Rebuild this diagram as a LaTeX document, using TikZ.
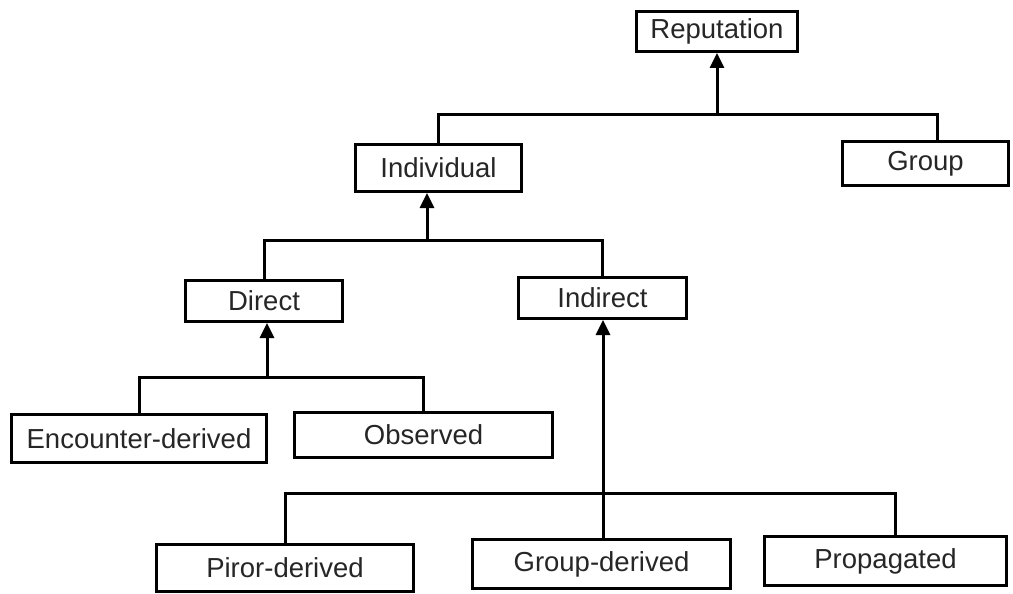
\documentclass[tikz,border=0pt]{standalone}
\usepackage{fontspec}
\setmainfont{Liberation Sans}
\usetikzlibrary{arrows.meta}
\begin{document}
\begin{tikzpicture}[x=1pt,y=-1pt,
  box/.style={draw=black,line width=3pt,fill=white,inner sep=0pt,
    font=\fontsize{27.5}{33}\selectfont,text=black!85},
  conn/.style={draw=black,line width=3pt},
  arr/.style={conn,-{Triangle[width=14pt,length=15pt]}}]
\useasboundingbox (0,0) rectangle (1013,594);
\fill[white] (0,0) rectangle (1013,594);
% nodes
\node[box,minimum width=161pt,minimum height=40pt] (rep) at (717,31.5) {Reputation};
\node[box,minimum width=166pt,minimum height=44pt] (grp) at (925.5,163.5) {Group};
\node[box,minimum width=166pt,minimum height=47pt] (indiv) at (438.5,168) {Individual};
\node[box,minimum width=157pt,minimum height=41pt] (dir) at (264,301) {Direct};
\node[box,minimum width=168pt,minimum height=41pt] (indr) at (602.5,298) {Indirect};
\node[box,minimum width=255pt,minimum height=48pt] (enc) at (139,438.5) {Encounter-derived};
\node[box,minimum width=258pt,minimum height=45pt] (obs) at (423.5,435) {Observed};
\node[box,minimum width=257pt,minimum height=47pt] (pir) at (285,568) {Piror-derived};
\node[box,minimum width=258pt,minimum height=49pt] (gd) at (601.5,564) {Group-derived};
\node[box,minimum width=242pt,minimum height=49pt] (prop) at (885.5,561) {Propagated};
% level 1
\coordinate (j1) at (717,115);
\coordinate (g1) at (937,115);
\draw[conn] (indiv.north) |- (g1) -- (g1 |- grp.north);
\draw[arr] (j1) -- (j1 |- rep.south);
% level 2
\coordinate (j2) at (427,240);
\draw[conn] (dir.north) |- (j2) -| (indr.north);
\draw[arr] (j2) -- (j2 |- indiv.south);
% level 3
\coordinate (j3) at (267,377);
\draw[conn] (enc.north) |- (j3) -| (obs.north);
\draw[arr] (j3) -- (j3 |- dir.south);
% level 4
\coordinate (j4) at (603,493);
\coordinate (p4) at (895,493);
\draw[conn] (pir.north) |- (p4) -- (p4 |- prop.north);
\draw[arr] (j4 |- gd.north) -- (j4 |- indr.south);
\end{tikzpicture}
\end{document}
